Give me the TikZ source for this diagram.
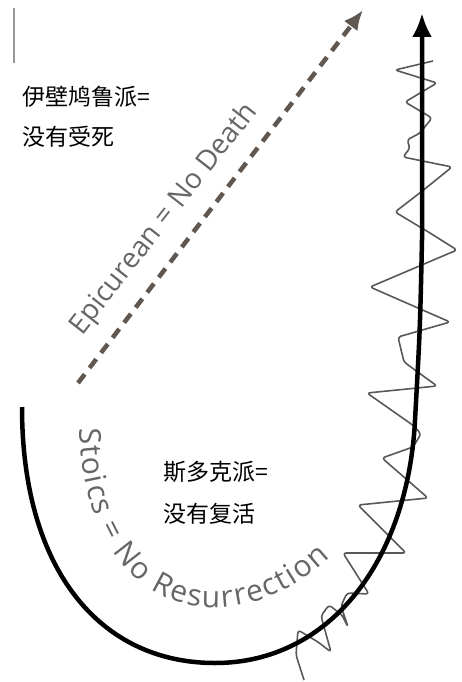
\documentclass[tikz,border=0pt]{standalone}
\usepackage{fontspec}
\usepackage{xcolor}
\usepackage{tikz}
\usetikzlibrary{arrows.meta,positioning,decorations.text}

\newfontfamily\cjk{Noto Sans CJK SC}
\newfontfamily\gillish{Open Sans}
\definecolor{inkgray}{HTML}{666666}
\definecolor{dashbrown}{HTML}{5F5750}
\definecolor{wavegray}{HTML}{585858}

\begin{document}
\begin{tikzpicture}[x=1pt, y=-1pt, every node/.style={inner sep=0pt}]
        \tikzset{
            cjklabel/.style={anchor=west, font=\cjk\fontsize{23}{28}\selectfont},
            pathtext/.style={decorate, decoration={text along path, text align={fit to path}, text={#1}}},
            dasharrow/.style={dashbrown, line width=4.5pt, dash pattern=on 11pt off 8pt, -{Latex[length=20pt, width=17pt]}},
            bigarrow/.style={black, line width=4.5pt, -{Latex[length=24pt, width=20pt]}},
            wave/.style={wavegray, line width=1.6pt, rounded corners=3pt, line join=round}
        }
        \useasboundingbox (0,0) rectangle (461,682);

        \node[cjklabel] (epiA) at (22,97) {伊壁鸠鲁派=};
        \node[cjklabel, below=40pt of epiA.west, anchor=west] (epiB) {没有受死};
        \node[cjklabel] (stoA) at (163,472) {斯多克派=};
        \node[cjklabel, below=42pt of stoA.west, anchor=west] (stoB) {没有复活};

        \coordinate (dashStart) at (78,383);
        \coordinate (dashTip) at (363,10);
        \coordinate (curveStart) at (22,407);
        \coordinate (curveLow) at (215,663);
        \coordinate (curveTop) at (422,13);
        \coordinate (epiS) at (82,336);
        \coordinate (epiE) at (257,113);
        \coordinate (stoS) at (80,428);
        \coordinate (stoMid) at (205,607);
        \coordinate (stoE) at (330,557);

        % page edge mark
        \draw[gray!80, line width=1.2pt] (14,8) -- (14,63);

        % gray squiggle round the rising line
        \draw[wave] (304,680) -- (296,655) -- (298,630) -- (318,642) -- (331,652)
            -- (321,616) -- (329,605) -- (342,615) -- (348,627) -- (341,606)
            -- (347,593) -- (369,594) -- (343,553) -- (406,553) -- (358,505)
            -- (428,498) -- (382,458) -- (413,447) -- (421,434) -- (414,426)
            -- (367,393) -- (437,386) -- (404,362) -- (398,337) -- (450,322)
            -- (370,287) -- (457,250) -- (430,233) -- (395,212) -- (421,192)
            -- (452,167) -- (403,157) -- (410,148) -- (407,140) -- (420,133)
            -- (432,118) -- (405,102) -- (437,83) -- (395,70) -- (433,61);

        \draw[dasharrow] (dashStart) -- (dashTip);
        \draw[bigarrow] (curveStart) .. controls (22,570) and (100,663) .. (curveLow)
            .. controls (330,663) and (408,560) .. (415,420)
            .. controls (420,330) .. (422,240) -- (curveTop);

        \path[pathtext={|\gillish\fontsize{28}{28}\selectfont\color{inkgray}|Epicurean = No Death}] (epiS) -- (epiE);
        \path[pathtext={|\gillish\fontsize{30}{30}\selectfont\color{inkgray}|Stoics = No Resurrection}]
            (stoS) .. controls (81,520) and (122,600) .. (stoMid) .. controls (260,610) and (300,585) .. (stoE);
    \end{tikzpicture}
\end{document}
